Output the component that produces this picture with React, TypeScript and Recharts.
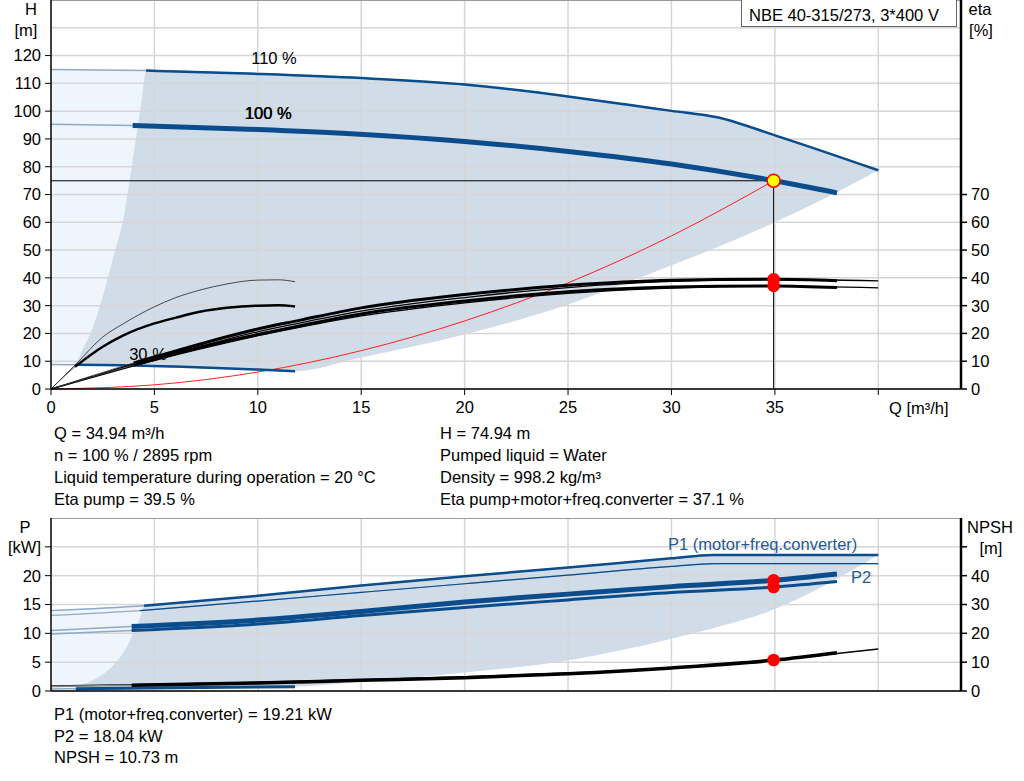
import React from "react";
import { ComposedChart, Line, Area, XAxis, YAxis, ReferenceDot } from "recharts";

type Pt = { q: number; v: number };
type Band = { q: number; r: [number, number] };

// axis ticks
const qTicks = [0, 5, 10, 15, 20, 25, 30, 35, 40];
const hTicks = [0, 10, 20, 30, 40, 50, 60, 70, 80, 90, 100, 110, 120];
const hGrid = [0, 10, 20, 30, 40, 50, 60, 70, 80, 90, 100, 110, 120, 130];
const etaTicks = [0, 10, 20, 30, 40, 50, 60, 70];
const pTicks = [0, 5, 10, 15, 20, 25];
const pGrid = [0, 5, 10, 15, 20, 25];
const npshTicks = [0, 10, 20, 30, 40, 50];

// duty point
const duty = { q: 34.94, h: 74.94, etaPump: 39.5, etaTotal: 37.1, p1: 19.21, p2: 18.04, npsh: 10.73 };

// H curves (m)
const h110: Pt[] = [
  { q: 0, v: 115 }, { q: 4.6, v: 114.6 }, { q: 10, v: 113.4 }, { q: 15, v: 111.9 }, { q: 20, v: 109.6 },
  { q: 25, v: 105.3 }, { q: 28, v: 102.2 }, { q: 30, v: 100.1 }, { q: 32.2, v: 97.8 }, { q: 35, v: 91.3 }, { q: 40, v: 78.7 },
];
const h100: Pt[] = [
  { q: 0, v: 95.3 }, { q: 3.95, v: 94.8 }, { q: 10, v: 93.4 }, { q: 14.5, v: 91.9 }, { q: 20, v: 89.1 },
  { q: 25, v: 85.5 }, { q: 30, v: 81 }, { q: 35, v: 74.94 }, { q: 38, v: 70.6 },
];
const h30: Pt[] = [
  { q: 0, v: 8.8 }, { q: 1.2, v: 8.7 }, { q: 4, v: 8.5 }, { q: 6, v: 8.1 }, { q: 8, v: 7.6 }, { q: 10, v: 7.0 }, { q: 11.8, v: 6.4 },
];
const systemCurve: Pt[] = [
  { q: 0, v: 0 }, { q: 5, v: 1.5 }, { q: 10, v: 6.1 }, { q: 15, v: 13.8 }, { q: 20, v: 24.5 },
  { q: 25, v: 38.2 }, { q: 30, v: 55.1 }, { q: 34.94, v: 74.94 },
];

// eta curves (%)
const etaPump100: Pt[] = [
  { q: 0, v: 0 }, { q: 2, v: 4.8 }, { q: 4, v: 9.4 }, { q: 6, v: 13.6 }, { q: 8, v: 17.8 }, { q: 10, v: 21.6 },
  { q: 12, v: 24.7 }, { q: 15, v: 29.2 }, { q: 20, v: 34 }, { q: 25, v: 37.3 }, { q: 30, v: 39.1 }, { q: 35, v: 39.5 }, { q: 38, v: 39.0 },
];
const etaTotal100: Pt[] = [
  { q: 0, v: 0 }, { q: 2, v: 4.4 }, { q: 4, v: 8.6 }, { q: 6, v: 12.7 }, { q: 8, v: 16.4 }, { q: 10, v: 19.6 },
  { q: 12, v: 22.7 }, { q: 15, v: 27.0 }, { q: 20, v: 31.7 }, { q: 25, v: 35.0 }, { q: 30, v: 36.7 }, { q: 35, v: 37.1 }, { q: 38, v: 36.5 },
];
const etaPump110: Pt[] = [
  { q: 0, v: 0 }, { q: 2, v: 4.5 }, { q: 4, v: 9.0 }, { q: 6, v: 13.0 }, { q: 8, v: 16.9 }, { q: 10, v: 20.6 },
  { q: 12, v: 23.7 }, { q: 15, v: 28.0 }, { q: 20, v: 32.9 }, { q: 25, v: 36.5 }, { q: 30, v: 38.7 }, { q: 35, v: 39.4 }, { q: 40, v: 38.9 },
];
const etaTotal110: Pt[] = [
  { q: 0, v: 0 }, { q: 2, v: 4.2 }, { q: 4, v: 8.3 }, { q: 6, v: 12.2 }, { q: 8, v: 15.8 }, { q: 10, v: 19.2 },
  { q: 12, v: 22.2 }, { q: 15, v: 26.3 }, { q: 20, v: 31.0 }, { q: 25, v: 34.4 }, { q: 30, v: 36.3 }, { q: 35, v: 37.0 }, { q: 40, v: 36.4 },
];
const etaPump30: Pt[] = [
  { q: 0, v: 0 }, { q: 1.24, v: 9.2 }, { q: 2.5, v: 18.7 }, { q: 3.5, v: 23.5 }, { q: 5, v: 29.6 }, { q: 6, v: 32.8 },
  { q: 7.2, v: 35.6 }, { q: 8.5, v: 37.8 }, { q: 10, v: 39.2 }, { q: 11, v: 39.3 }, { q: 11.8, v: 38.6 },
];
const etaTotal30: Pt[] = [
  { q: 0, v: 0 }, { q: 1.16, v: 8.0 }, { q: 2.5, v: 15.2 }, { q: 3.5, v: 19.3 }, { q: 5, v: 23.6 }, { q: 6, v: 25.6 },
  { q: 7.2, v: 27.8 }, { q: 8.5, v: 29.2 }, { q: 10, v: 30.0 }, { q: 11, v: 30.1 }, { q: 11.8, v: 29.7 },
];

// operating ranges (H)
const hLightBand: Band[] = [
  { q: 0, r: [8.8, 115] }, { q: 1.2, r: [8.7, 114.9] }, { q: 4.6, r: [8.5, 114.6] },
];
const hDarkBand: Band[] = [
  { q: 1.2, r: [8.7, 8.8] }, { q: 1.45, r: [8.69, 13] }, { q: 1.9, r: [8.67, 20] }, { q: 2.37, r: [8.65, 30] },
  { q: 2.75, r: [8.62, 40] }, { q: 3.1, r: [8.6, 50] }, { q: 3.47, r: [8.57, 60] }, { q: 3.7, r: [8.55, 70] },
  { q: 3.9, r: [8.52, 80] }, { q: 4.15, r: [8.5, 92] }, { q: 4.4, r: [8.47, 105] }, { q: 4.6, r: [8.44, 114.6] },
  { q: 6, r: [8.1, 114.2] }, { q: 8, r: [7.6, 113.9] }, { q: 10, r: [7.0, 113.4] }, { q: 11.8, r: [6.4, 112.6] },
  { q: 15, r: [11.3, 111.9] }, { q: 20, r: [19.6, 109.6] }, { q: 25, r: [30.4, 105.3] }, { q: 30, r: [44.5, 100.1] },
  { q: 32.2, r: [51, 97.8] }, { q: 35, r: [60, 91.3] }, { q: 38, r: [70.8, 84] }, { q: 40, r: [78.7, 78.7] },
];

// power curves (kW)
const p1_110: Pt[] = [
  { q: 0, v: 13.95 }, { q: 4.5, v: 14.8 }, { q: 10, v: 16.5 }, { q: 15, v: 18.3 }, { q: 20, v: 19.9 },
  { q: 25, v: 21.4 }, { q: 30, v: 23.0 }, { q: 32, v: 23.6 }, { q: 36, v: 23.6 }, { q: 40, v: 23.6 },
];
const p2_110: Pt[] = [
  { q: 0, v: 13.1 }, { q: 4.3, v: 13.95 }, { q: 10, v: 15.6 }, { q: 15, v: 17.1 }, { q: 20, v: 18.6 },
  { q: 25, v: 20.1 }, { q: 30, v: 21.6 }, { q: 32.1, v: 22.1 }, { q: 36, v: 22.1 }, { q: 40, v: 22.1 },
];
const p1_100: Pt[] = [
  { q: 0, v: 10.5 }, { q: 3.9, v: 11.2 }, { q: 10, v: 12.3 }, { q: 15, v: 13.8 }, { q: 20, v: 15.45 },
  { q: 25, v: 16.8 }, { q: 30, v: 18.1 }, { q: 35, v: 19.21 }, { q: 38, v: 20.3 },
];
const p2_100: Pt[] = [
  { q: 0, v: 9.9 }, { q: 3.9, v: 10.5 }, { q: 10, v: 11.6 }, { q: 15, v: 13.1 }, { q: 20, v: 14.5 },
  { q: 25, v: 15.8 }, { q: 30, v: 17.1 }, { q: 35, v: 18.04 }, { q: 38, v: 19.0 },
];
const p_30: Pt[] = [
  { q: 0, v: 0.35 }, { q: 1.2, v: 0.4 }, { q: 6, v: 0.55 }, { q: 11.8, v: 0.75 },
];

// NPSH (m)
const npsh100: Pt[] = [
  { q: 0, v: 1.6 }, { q: 3.9, v: 2.0 }, { q: 10, v: 2.8 }, { q: 15, v: 3.7 }, { q: 20, v: 4.6 },
  { q: 25, v: 6.0 }, { q: 30, v: 8.0 }, { q: 35, v: 10.73 }, { q: 38, v: 13.3 },
];
const npsh110: Pt[] = [
  { q: 0, v: 1.7 }, { q: 4, v: 2.2 }, { q: 10, v: 3.0 }, { q: 15, v: 3.9 }, { q: 20, v: 4.9 },
  { q: 25, v: 6.2 }, { q: 30, v: 8.1 }, { q: 35, v: 10.8 }, { q: 38, v: 13.0 }, { q: 40, v: 14.6 },
];

// operating ranges (P)
const pLightBand: Band[] = [
  { q: 0, r: [0.35, 13.95] }, { q: 4.5, r: [0.5, 14.8] },
];
const pDarkBand: Band[] = [
  { q: 1.2, r: [0.4, 0.8] }, { q: 1.5, r: [0.41, 1.1] }, { q: 1.85, r: [0.42, 1.55] }, { q: 2.25, r: [0.43, 2.3] },
  { q: 2.66, r: [0.44, 3.3] }, { q: 3.1, r: [0.45, 4.8] }, { q: 3.47, r: [0.46, 6.5] }, { q: 3.75, r: [0.47, 8.2] },
  { q: 3.95, r: [0.48, 9.9] }, { q: 4.15, r: [0.48, 11.3] }, { q: 4.35, r: [0.49, 13.2] }, { q: 4.5, r: [0.5, 14.8] },
  { q: 6, r: [0.55, 15.3] }, { q: 8, r: [0.62, 15.9] }, { q: 10, r: [0.68, 16.5] }, { q: 11.8, r: [0.75, 17.1] },
  { q: 15, r: [1.6, 18.3] }, { q: 20, r: [3.2, 19.9] }, { q: 25, r: [5.3, 21.4] }, { q: 30, r: [9.05, 23.0] },
  { q: 32, r: [10.9, 23.6] }, { q: 35, r: [14.2, 23.6] }, { q: 37.4, r: [18.3, 23.6] }, { q: 40, r: [23.6, 23.6] },
];

const BLUE = "#0b4d8c";
const LIGHTLINE = "#8eaac6";
const GRID = "#d6d6d6";
const FONT = "'Liberation Sans', Arial, sans-serif";
const FS = 16.5;
const Q_MAX = 44;

const from = (pts: Pt[], q0: number) => pts.filter((p) => p.q >= q0);

function curve(key: string, data: Pt[], axis: string, stroke: string, width: number) {
  return (
    <Line
      key={key}
      data={data}
      dataKey="v"
      yAxisId={axis}
      type="monotone"
      stroke={stroke}
      strokeWidth={width}
      dot={false}
      activeDot={false}
      isAnimationActive={false}
    />
  );
}

function band(key: string, data: Band[], axis: string, fill: string, type: "linear" | "monotone") {
  return (
    <Area
      key={key}
      data={data}
      dataKey="r"
      yAxisId={axis}
      type={type}
      fill={fill}
      fillOpacity={1}
      stroke="none"
      activeDot={false}
      isAnimationActive={false}
    />
  );
}

function gridLines(prefix: string, axis: string, hVals: number[], top: number) {
  const out: React.ReactNode[] = [];
  hVals.forEach((v) =>
    out.push(
      <Line key={`${prefix}h${v}`} data={[{ q: 0, v }, { q: Q_MAX, v }]} dataKey="v" yAxisId={axis} type="linear"
        stroke={GRID} strokeWidth={1.5} dot={false} activeDot={false} isAnimationActive={false} />
    )
  );
  qTicks.slice(1).forEach((q) =>
    out.push(
      <Line key={`${prefix}v${q}`} data={[{ q, v: 0 }, { q, v: top }]} dataKey="v" yAxisId={axis} type="linear"
        stroke={GRID} strokeWidth={1.5} dot={false} activeDot={false} isAnimationActive={false} />
    )
  );
  out.push(
    <Line key={`${prefix}top`} data={[{ q: 0, v: top }, { q: Q_MAX, v: top }]} dataKey="v" yAxisId={axis} type="linear"
      stroke="#9a9a9a" strokeWidth={2} dot={false} activeDot={false} isAnimationActive={false} />
  );
  return out;
}

const tickStyle = { fill: "#000", fontSize: FS, fontFamily: FONT };

function TopChart() {
  return (
    <ComposedChart width={1024} height={420} margin={{ top: 0, right: 0, bottom: 0, left: 0 }}>
      <XAxis type="number" dataKey="q" domain={[0, Q_MAX]} ticks={qTicks} interval={0}
        tickFormatter={(v) => (v === 40 ? "" : String(v))}
        height={31} tick={tickStyle} tickSize={6} tickMargin={6} axisLine={{ stroke: "#000", strokeWidth: 1.5 }}
        tickLine={{ stroke: "#000" }} />
      <YAxis yAxisId="h" type="number" domain={[0, 140]} ticks={hTicks} interval={0} width={51} tick={tickStyle} tickSize={6}
        tickMargin={4} axisLine={{ stroke: "#000", strokeWidth: 1.5 }} tickLine={{ stroke: "#000" }} />
      <YAxis yAxisId="eta" orientation="right" type="number" domain={[0, 140]} ticks={etaTicks} interval={0} width={63}
        tick={tickStyle} tickSize={6} tickMargin={4} axisLine={{ stroke: "#000", strokeWidth: 2.5 }}
        tickLine={{ stroke: "#000", strokeWidth: 1.5 }} />
      {band("lightH", hLightBand, "h", "#eef5fc", "linear")}
      {band("darkH", hDarkBand, "h", "#d0dce8", "monotone")}
      {gridLines("t", "h", hGrid, 140)}
      {curve("sys", systemCurve, "h", "#ff2020", 1)}
      {curve("dutyH", [{ q: 0, v: duty.h }, { q: duty.q, v: duty.h }], "h", "#000", 1)}
      {curve("dutyV", [{ q: duty.q, v: 0 }, { q: duty.q, v: duty.h }], "h", "#000", 1)}
      {curve("h110l", h110, "h", LIGHTLINE, 1.5)}
      {curve("h110", from(h110, 4.6), "h", BLUE, 2.5)}
      {curve("h100l", h100, "h", LIGHTLINE, 1.5)}
      {curve("h100", from(h100, 3.95), "h", BLUE, 5)}
      {curve("h30l", h30, "h", LIGHTLINE, 1.5)}
      {curve("h30", from(h30, 1.2), "h", BLUE, 2.5)}
      {curve("ep30", etaPump30, "eta", "#222", 0.8)}
      {curve("et30l", etaTotal30, "eta", "#333", 0.8)}
      {curve("et30", from(etaTotal30, 1.16), "eta", "#000", 2.5)}
      {curve("ep110", etaPump110, "eta", "#000", 1.3)}
      {curve("et110", etaTotal110, "eta", "#000", 1.3)}
      {curve("ep100l", etaPump100, "eta", "#333", 0.8)}
      {curve("et100l", etaTotal100, "eta", "#333", 0.8)}
      {curve("ep100", from(etaPump100, 4), "eta", "#000", 3)}
      {curve("et100", from(etaTotal100, 4), "eta", "#000", 3)}
      <ReferenceDot yAxisId="eta" x={duty.q} y={duty.etaPump} r={6.3} fill="#ff0000" stroke="none" />
      <ReferenceDot yAxisId="eta" x={duty.q} y={duty.etaTotal} r={6.3} fill="#ff0000" stroke="none" />
      <ReferenceDot yAxisId="h" x={duty.q} y={duty.h} r={6.5} fill="#ffff00" stroke="#ff0000" strokeWidth={1.5} />
    </ComposedChart>
  );
}

function BottomChart() {
  return (
    <ComposedChart width={1024} height={186} margin={{ top: 0, right: 0, bottom: 0, left: 0 }}>
      <XAxis type="number" dataKey="q" domain={[0, Q_MAX]} ticks={qTicks} tick={false} tickLine={false} height={13}
        axisLine={{ stroke: "#000", strokeWidth: 1.5 }} />
      <YAxis yAxisId="p" type="number" domain={[0, 30]} ticks={pTicks} interval={0} width={51}
        tickFormatter={(v) => (v === 25 ? "[kW]" : String(v))} tick={tickStyle} tickSize={6} tickMargin={4}
        axisLine={{ stroke: "#000", strokeWidth: 1.5 }} tickLine={{ stroke: "#000" }} />
      <YAxis yAxisId="npsh" orientation="right" type="number" domain={[0, 60]} ticks={npshTicks} interval={0} width={63}
        tickFormatter={(v) => (v === 50 ? "" : String(v))} tick={tickStyle} tickSize={6} tickMargin={4}
        axisLine={{ stroke: "#000", strokeWidth: 2.5 }} tickLine={{ stroke: "#000", strokeWidth: 1.5 }} />
      {band("lightP", pLightBand, "p", "#eef5fc", "linear")}
      {band("darkP", pDarkBand, "p", "#d0dce8", "monotone")}
      {gridLines("b", "p", pGrid, 30)}
      {curve("p30", p_30, "p", LIGHTLINE, 1.5)}
      {curve("p30d", from(p_30, 1.2), "p", BLUE, 3)}
      {curve("n110", npsh110, "npsh", "#000", 1.5)}
      {curve("n100l", npsh100, "npsh", "#8a8a8a", 1.5)}
      {curve("n100", from(npsh100, 3.9), "npsh", "#000", 3.5)}
      {curve("p1_110l", p1_110, "p", LIGHTLINE, 1.5)}
      {curve("p1_110", from(p1_110, 4.5), "p", BLUE, 2.5)}
      {curve("p2_110l", p2_110, "p", LIGHTLINE, 1.2)}
      {curve("p2_110", from(p2_110, 4.3), "p", BLUE, 1.2)}
      {curve("p1_100l", p1_100, "p", LIGHTLINE, 1.5)}
      {curve("p1_100", from(p1_100, 3.9), "p", BLUE, 5)}
      {curve("p2_100l", p2_100, "p", LIGHTLINE, 1.5)}
      {curve("p2_100", from(p2_100, 3.9), "p", BLUE, 3)}
      <ReferenceDot yAxisId="p" x={duty.q} y={duty.p1} r={6.3} fill="#ff0000" stroke="none" />
      <ReferenceDot yAxisId="p" x={duty.q} y={duty.p2} r={6.3} fill="#ff0000" stroke="none" />
      <ReferenceDot yAxisId="npsh" x={duty.q} y={duty.npsh} r={6.3} fill="#ff0000" stroke="none" />
    </ComposedChart>
  );
}

function Txt({ x, y, children, color = "#000", anchor = "start" }: { x: number; y: number; children: React.ReactNode; color?: string; anchor?: "start" | "middle" | "end" }) {
  const tx = anchor === "middle" ? "-50%" : anchor === "end" ? "-100%" : "0";
  return (
    <div style={{ position: "absolute", left: x, top: y, transform: `translate(${tx}, -50%)`, whiteSpace: "nowrap", color, fontSize: FS, lineHeight: 1 }}>
      {children}
    </div>
  );
}

const infoLeft = ["Q = 34.94 m³/h", "n = 100 % / 2895 rpm", "Liquid temperature during operation = 20 °C", "Eta pump = 39.5 %"];
const infoRight = ["H = 74.94 m", "Pumped liquid = Water", "Density = 998.2 kg/m³", "Eta pump+motor+freq.converter = 37.1 %"];
const infoBottom = ["P1 (motor+freq.converter) = 19.21 kW", "P2 = 18.04 kW", "NPSH = 10.73 m"];

export default function App() {
  return (
    <div style={{ position: "absolute", left: 0, top: 0, width: 1024, height: 781, background: "#fff", fontFamily: FONT, overflow: "hidden" }}>
      <div style={{ position: "absolute", left: 0, top: 0 }}>
        <TopChart />
      </div>
      <div style={{ position: "absolute", left: 0, top: 518 }}>
        <BottomChart />
      </div>

      <div style={{ position: "absolute", left: 741, top: 0, width: 216, height: 27, border: "1px solid #666", borderTop: "none", background: "#fff", boxSizing: "border-box" }} />
      <Txt x={749} y={15}>NBE 40-315/273, 3*400 V</Txt>

      <Txt x={31} y={9} anchor="middle">H</Txt>
      <Txt x={26} y={30} anchor="middle">[m]</Txt>
      <Txt x={980} y={9} anchor="middle">eta</Txt>
      <Txt x={981} y={30} anchor="middle">[%]</Txt>
      <Txt x={889} y={408}>Q [m³/h]</Txt>

      <Txt x={274} y={58} anchor="middle">110 %</Txt>
      <Txt x={268} y={113} anchor="middle">100 %</Txt>
      <Txt x={268.6} y={113.4} anchor="middle">100 %</Txt>
      <Txt x={148} y={354} anchor="middle">30 %</Txt>

      {infoLeft.map((s, i) => (
        <Txt key={s} x={54} y={433 + i * 22}>{s}</Txt>
      ))}
      {infoRight.map((s, i) => (
        <Txt key={s} x={440} y={433 + i * 22}>{s}</Txt>
      ))}

      <Txt x={25} y={527} anchor="middle">P</Txt>
      <Txt x={990} y={527} anchor="middle">NPSH</Txt>
      <Txt x={991} y={548} anchor="middle">[m]</Txt>
      <Txt x={668} y={544} color="#1f5a96">P1 (motor+freq.converter)</Txt>
      <Txt x={851} y={577} color="#1f5a96">P2</Txt>

      {infoBottom.map((s, i) => (
        <Txt key={s} x={54} y={714 + i * 21.5}>{s}</Txt>
      ))}
    </div>
  );
}
